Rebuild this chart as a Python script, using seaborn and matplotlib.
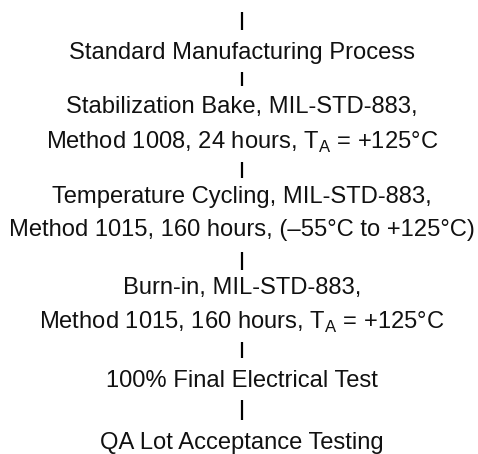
import seaborn as sns
import matplotlib.pyplot as plt

sns.set_theme(style="white")
plt.rcParams["font.family"] = ["Liberation Sans", "DejaVu Sans"]
plt.rcParams["mathtext.fontset"] = "custom"
plt.rcParams["mathtext.rm"] = "Liberation Sans"

# flow steps (top to bottom), each a list of text lines
steps = [
    ["Standard Manufacturing Process"],
    ["Stabilization Bake, MIL-STD-883,",
     r"Method 1008, 24 hours, T$_{\mathregular{A}}$ = +125°C"],
    ["Temperature Cycling, MIL-STD-883,",
     "Method 1015, 160 hours, (–55°C to +125°C)"],
    ["Burn-in, MIL-STD-883,",
     r"Method 1015, 160 hours, T$_{\mathregular{A}}$ = +125°C"],
    ["100% Final Electrical Test"],
    ["QA Lot Acceptance Testing"],
]

# vertical layout in pixels (text line centers and connector spans)
line_y = [[53], [107, 142], [197, 230], [288, 322], [381], [443]]
connectors = [(12, 30), (72, 86), (162, 178), (252, 270), (342, 358), (400, 420)]

fig, ax = plt.subplots(figsize=(4.78, 4.54), dpi=100)
fig.subplots_adjust(0, 0, 1, 1)
ax.set_xlim(0, 478)
ax.set_ylim(454, 0)
ax.axis("off")

cx = 242
for (y0, y1) in connectors:
    ax.vlines(cx, y0, y1, color="black", lw=1.6)

for lines, ys in zip(steps, line_y):
    for txt, y in zip(lines, ys):
        ax.text(cx, y, txt, ha="center", va="center", fontsize=17.1, color="#111111")

fig.savefig("out.png", dpi=100)
